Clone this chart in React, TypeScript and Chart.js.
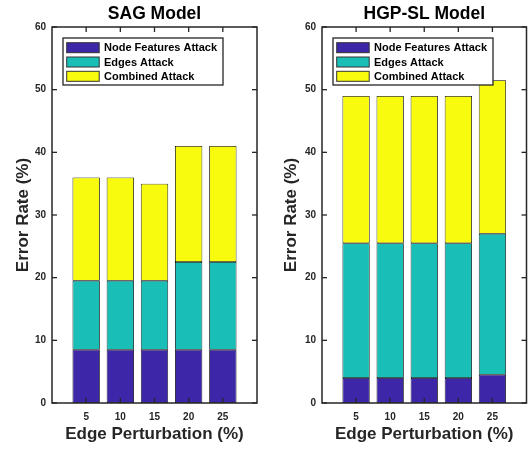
import React, { useEffect, useRef } from "react";
import { Chart, registerables } from "chart.js";

Chart.register(...registerables);

const categories = [5, 10, 15, 20, 25];
const seriesLabels = ["Node Features Attack", "Edges Attack", "Combined Attack"];
const seriesColors = ["#3E26A8", "#19BEB6", "#F9FB0E"];

const sagNode = [8.5, 8.5, 8.5, 8.5, 8.5];
const sagEdges = [11, 11, 11, 14, 14];
const sagCombined = [16.5, 16.5, 15.5, 18.5, 18.5];

const hgpNode = [4, 4, 4, 4, 4.5];
const hgpEdges = [21.5, 21.5, 21.5, 21.5, 22.5];
const hgpCombined = [23.5, 23.5, 23.5, 23.5, 24.5];

const yTicks = [0, 10, 20, 30, 40, 50, 60];

const FONT = "'Liberation Sans', Arial, Helvetica, sans-serif";
const AXIS = "#262626";

const framePlugin = {
  id: "matlabFrame",
  afterDraw(chart: any) {
    const { ctx, chartArea: a, scales } = chart;
    const x = scales.x;
    const y = scales.y;
    ctx.save();
    ctx.strokeStyle = AXIS;
    ctx.lineWidth = 1.5;
    ctx.strokeRect(a.left, a.top, a.right - a.left, a.bottom - a.top);
    ctx.lineWidth = 1.3;
    const tl = 5;
    const line = (x1: number, y1: number, x2: number, y2: number) => {
      ctx.beginPath();
      ctx.moveTo(x1, y1);
      ctx.lineTo(x2, y2);
      ctx.stroke();
    };
    x.ticks.forEach((t: any) => {
      const px = x.getPixelForValue(t.value);
      line(px, a.bottom, px, a.bottom - tl);
      line(px, a.top, px, a.top + tl);
    });
    y.ticks.forEach((t: any) => {
      const py = y.getPixelForValue(t.value);
      line(a.left, py, a.left + tl, py);
      line(a.right, py, a.right - tl, py);
    });

    // legend box (MATLAB style, inside axes, top-left)
    const lx = a.left + 11;
    const ly = a.top + 11;
    const lw = 160;
    const lh = 47;
    ctx.fillStyle = "#ffffff";
    ctx.fillRect(lx, ly, lw, lh);
    ctx.lineWidth = 1.3;
    ctx.strokeStyle = AXIS;
    ctx.strokeRect(lx, ly, lw, lh);
    ctx.font = `bold 11px ${FONT}`;
    ctx.textBaseline = "middle";
    ctx.textAlign = "left";
    chart.data.datasets.forEach((ds: any, i: number) => {
      const cy = ly + 9.7 + i * 14.3;
      ctx.fillStyle = ds.backgroundColor;
      ctx.fillRect(lx + 3.7, cy - 5, 32.5, 10);
      ctx.lineWidth = 1;
      ctx.strokeStyle = "#333333";
      ctx.strokeRect(lx + 3.7, cy - 5, 32.5, 10);
      ctx.fillStyle = "#000000";
      ctx.fillText(ds.label, lx + 41, cy + 0.5);
    });
    ctx.restore();
  },
};

function makeConfig(title: string, series: number[][], yAxisWidth: number, padRight: number, yTitlePad: number): any {
  return {
    type: "bar",
    data: {
      datasets: series.map((vals, i) => ({
        label: seriesLabels[i],
        data: categories.map((c, j) => ({ x: c, y: vals[j] })),
        backgroundColor: seriesColors[i],
        borderColor: "#000000",
        borderWidth: 0.8,
        borderSkipped: false,
        barPercentage: 0.8,
        categoryPercentage: 1,
      })),
    },
    options: {
      animation: false,
      responsive: false,
      devicePixelRatio: 1,
      layout: { padding: { left: 0, right: padRight, top: 0, bottom: 0 } },
      plugins: {
        legend: { display: false },
        tooltip: { enabled: false },
        title: {
          display: true,
          text: title,
          fullSize: false,
          color: "#000000",
          font: { family: FONT, size: 17.5, weight: "bold" },
          padding: { top: 4, bottom: 2 },
        },
      },
      scales: {
        x: {
          type: "linear",
          stacked: true,
          offset: false,
          min: 0,
          max: 30,
          afterBuildTicks: (s: any) => {
            s.ticks = categories.map((v) => ({ value: v }));
          },
          afterFit: (s: any) => {
            s.height = 47;
          },
          grid: { display: false, drawTicks: false, offset: false },
          border: { display: false },
          ticks: {
            color: AXIS,
            padding: 8,
            maxRotation: 0,
            font: { family: FONT, size: 10, weight: "bold" },
          },
          title: {
            display: true,
            text: "Edge Perturbation (%)",
            color: AXIS,
            font: { family: FONT, size: 17, weight: "bold" },
            padding: { top: 0, bottom: 5 },
          },
        },
        y: {
          stacked: true,
          min: 0,
          max: 60,
          afterBuildTicks: (s: any) => {
            s.ticks = yTicks.map((v) => ({ value: v }));
          },
          afterFit: (s: any) => {
            s.width = yAxisWidth;
          },
          grid: { display: false, drawTicks: false },
          border: { display: false },
          ticks: {
            color: AXIS,
            padding: 6,
            font: { family: FONT, size: 10, weight: "bold" },
          },
          title: {
            display: true,
            text: "Error Rate (%)",
            color: AXIS,
            font: { family: FONT, size: 17, weight: "bold" },
            padding: { top: yTitlePad, bottom: 0 },
          },
        },
      },
    },
    plugins: [framePlugin],
  };
}

function Panel(props: { cfg: any; left: number }) {
  const ref = useRef<HTMLCanvasElement | null>(null);
  useEffect(() => {
    if (!ref.current) return;
    const chart = new Chart(ref.current, props.cfg);
    return () => chart.destroy();
  }, []);
  return (
    <canvas
      ref={ref}
      width={266}
      height={450}
      style={{ position: "absolute", left: props.left, top: 0, width: 266, height: 450 }}
    />
  );
}

export default function App() {
  const sagCfg = makeConfig("SAG Model", [sagNode, sagEdges, sagCombined], 52, 9, 13);
  const hgpCfg = makeConfig("HGP-SL Model", [hgpNode, hgpEdges, hgpCombined], 56, 5.5, 15);
  return (
    <div style={{ position: "absolute", left: 0, top: 0, width: 532, height: 450, background: "#ffffff" }}>
      <Panel cfg={sagCfg} left={0} />
      <Panel cfg={hgpCfg} left={266} />
    </div>
  );
}
